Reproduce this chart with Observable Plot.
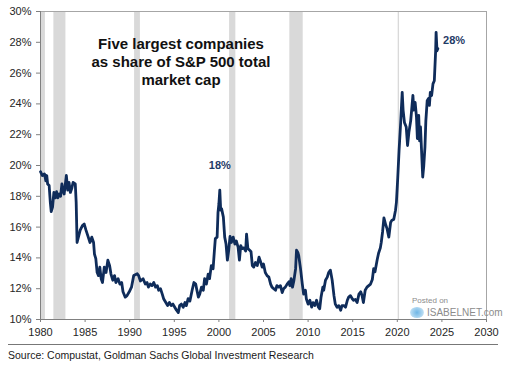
<!DOCTYPE html>
<html>
<head>
<meta charset="utf-8">
<script src="https://cdn.jsdelivr.net/npm/d3@7"></script>
<script src="https://cdn.jsdelivr.net/npm/@observablehq/plot@0.6"></script>
<style>
  html, body { margin: 0; padding: 0; background: #fff; }
  #wrap { position: relative; width: 506px; height: 372px; font-family: "Liberation Sans", Arial, sans-serif; overflow: hidden; }
  #chart { position: absolute; left: 0; top: 0; }
  .title { position: absolute; left: 60px; top: 35px; width: 242px; text-align: center; font-weight: bold; font-size: 15px; line-height: 18px; color: #111; }
  .sep { position: absolute; left: 8px; top: 344px; width: 490px; height: 0; border-top: 1px solid #777; }
  .source { position: absolute; left: 8px; top: 349px; font-size: 10.5px; color: #1a1a1a; }
  .wm1 { position: absolute; left: 412px; top: 296px; font-size: 8px; color: #8c8c8c; }
  .wm2 { position: absolute; left: 427px; top: 307px; font-size: 10px; color: #8c8c8c; }
  .logo { position: absolute; left: 410px; top: 307px; width: 14px; height: 11px; border-radius: 50%; background: radial-gradient(circle, #6fb6e6 0%, #b9dcf2 70%, #ffffff 100%); }
</style>
</head>
<body>
<div id="wrap">
  <div id="chart"></div>
  <div class="title">Five largest companies<br>as share of S&amp;P 500 total<br>market cap</div>
  <div class="logo"></div>
  <div class="wm1">Posted on</div>
  <div class="wm2">ISABELNET.com</div>
  <div class="sep"></div>
  <div class="source">Source: Compustat, Goldman Sachs Global Investment Research</div>
</div>
<script>
const years = [
  1980.0, 1980.2, 1980.45, 1980.6, 1980.7, 1980.8, 1980.97, 1981.1, 1981.2, 1981.35,
  1981.5, 1981.65, 1981.8, 1981.95, 1982.1, 1982.25, 1982.4, 1982.5, 1982.65, 1982.9,
  1983.05, 1983.2, 1983.35, 1983.5, 1983.65, 1983.9, 1984.0, 1984.1, 1984.25, 1984.45,
  1984.7, 1984.9, 1985.1, 1985.3, 1985.55, 1985.75, 1985.95, 1986.05, 1986.2, 1986.35,
  1986.5, 1986.65, 1986.8, 1986.95, 1987.15, 1987.35, 1987.55, 1987.75, 1987.9, 1988.1,
  1988.3, 1988.45, 1988.7, 1988.9, 1989.1, 1989.25, 1989.5, 1989.7, 1989.95, 1990.2,
  1990.45, 1990.85, 1991.0, 1991.2, 1991.5, 1991.75, 1991.95, 1992.1, 1992.3, 1992.5,
  1992.7, 1992.9, 1993.1, 1993.25, 1993.45, 1993.65, 1993.8, 1994.05, 1994.25, 1994.45,
  1994.65, 1994.85, 1995.05, 1995.25, 1995.45, 1995.6, 1995.8, 1996.0, 1996.2, 1996.35,
  1996.55, 1996.75, 1997.0, 1997.2, 1997.4, 1997.5, 1997.7, 1997.85, 1998.05, 1998.25,
  1998.4, 1998.6, 1998.8, 1998.95, 1999.15, 1999.35, 1999.5, 1999.6, 1999.8, 1999.9,
  2000.0, 2000.1, 2000.2, 2000.3, 2000.5, 2000.65, 2000.8, 2000.95, 2001.1, 2001.25,
  2001.4, 2001.6, 2001.8, 2001.95, 2002.15, 2002.3, 2002.45, 2002.6, 2002.8, 2003.0,
  2003.1, 2003.25, 2003.45, 2003.6, 2003.75, 2003.9, 2004.1, 2004.3, 2004.5, 2004.7,
  2004.85, 2005.0, 2005.2, 2005.4, 2005.6, 2005.8, 2005.95, 2006.15, 2006.35, 2006.5,
  2006.7, 2006.9, 2007.1, 2007.25, 2007.45, 2007.65, 2007.85, 2007.95, 2008.1, 2008.25,
  2008.4, 2008.6, 2008.7, 2008.85, 2008.95, 2009.15, 2009.35, 2009.5, 2009.7, 2009.8,
  2010.0, 2010.2, 2010.4, 2010.55, 2010.75, 2010.95, 2011.15, 2011.3, 2011.45, 2011.65,
  2011.75, 2011.95, 2012.15, 2012.3, 2012.5, 2012.7, 2012.9, 2013.05, 2013.25, 2013.45,
  2013.65, 2013.8, 2014.0, 2014.2, 2014.4, 2014.55, 2014.75, 2014.95, 2015.1, 2015.3,
  2015.5, 2015.7, 2015.9, 2016.05, 2016.2, 2016.4, 2016.6, 2016.8, 2017.0, 2017.2,
  2017.35, 2017.5, 2017.75, 2017.9, 2018.1, 2018.2, 2018.35, 2018.5, 2018.7, 2018.85,
  2019.05, 2019.25, 2019.4, 2019.6, 2019.8, 2019.9, 2020.05, 2020.2, 2020.35, 2020.55,
  2020.65, 2020.8, 2021.0, 2021.15, 2021.3, 2021.5, 2021.6, 2021.75, 2021.85, 2022.0,
  2022.15, 2022.25, 2022.4, 2022.5, 2022.6, 2022.7, 2022.85, 2022.97, 2023.1, 2023.2,
  2023.35, 2023.5, 2023.6, 2023.7, 2023.85, 2024.0, 2024.15, 2024.3, 2024.35, 2024.45,
  2024.55
];
const shares = [
  19.6, 19.35, 19.45, 19.0, 19.35, 18.8, 18.7, 17.6, 17.0, 17.3,
  18.25, 17.9, 18.3, 17.9, 18.15, 18.0, 18.8, 18.4, 18.15, 19.35,
  18.4, 18.9, 18.25, 18.5, 18.9, 18.8, 17.6, 15.0, 15.35, 15.8,
  16.1, 16.2, 15.8, 15.45, 15.0, 15.35, 15.0, 14.25, 13.95, 13.05,
  12.85, 13.4, 12.65, 12.4, 13.4, 13.05, 13.85, 13.5, 12.95, 12.55,
  12.85, 12.4, 12.65, 12.3, 12.4, 11.8, 11.45, 11.55, 11.8, 12.1,
  12.85, 12.97, 12.85, 12.5, 12.65, 12.3, 12.4, 12.1, 12.3, 12.2,
  12.4, 12.1, 12.2, 11.9, 12.0, 11.65, 11.35, 11.1, 10.9, 11.1,
  10.9, 11.0, 10.8, 10.6, 10.45, 10.9, 11.0, 10.8, 11.1, 10.9,
  11.35, 11.2, 11.9, 12.4, 12.3, 12.0, 11.45, 11.65, 12.1, 11.9,
  12.65, 12.3, 12.95, 12.65, 13.5, 13.3, 14.5, 15.25, 15.35, 16.95,
  17.5, 18.4, 17.1, 17.2, 16.65, 15.35, 14.9, 13.85, 14.5, 15.4,
  15.0, 15.35, 14.9, 15.1, 14.7, 13.85, 14.8, 14.6, 14.65, 14.45,
  15.55, 14.6, 14.5, 14.4, 13.5, 13.4, 13.7, 13.5, 14.05, 13.7,
  13.4, 13.6, 13.05, 12.85, 12.75, 12.3, 12.1, 12.0, 11.9, 12.2,
  12.1, 12.2, 11.75, 12.0, 12.1, 12.3, 12.45, 12.2, 12.65, 12.1,
  12.5, 13.3, 14.5, 14.35, 14.15, 13.3, 12.3, 11.65, 11.9, 11.35,
  11.0, 11.25, 10.8, 11.1, 10.9, 11.25, 10.8, 10.7, 11.45, 12.1,
  11.9, 12.55, 12.75, 13.05, 13.2, 12.55, 11.55, 11.0, 10.8, 10.9,
  10.6, 10.9, 10.9, 10.8, 11.25, 11.45, 11.55, 11.35, 11.25, 11.3,
  11.1, 11.65, 11.8, 11.55, 11.1, 11.9, 12.1, 12.2, 12.3, 12.6,
  13.3, 13.1, 13.9, 14.3, 14.65, 15.0, 15.7, 16.6, 16.15, 15.9,
  15.35, 16.3, 16.45, 16.5, 17.1, 17.6, 19.2, 21.0, 22.5, 24.75,
  23.6, 22.8, 22.5, 21.3, 22.15, 22.9, 23.55, 24.55, 23.6, 24.1,
  23.15, 21.75, 23.25, 21.6, 22.5, 21.2, 19.25, 20.0, 21.2, 22.9,
  24.2, 24.35, 23.9, 24.75, 24.55, 25.3, 25.5, 27.45, 28.65, 27.45,
  27.6
];
const recessionStart = [1980.0, 1981.5, 1990.55, 2001.2, 2007.95, 2020.1];
const recessionEnd   = [1980.55, 1982.85, 1991.2, 2001.9, 2009.45, 2020.25];
const xTicks = [1980, 1985, 1990, 1995, 2000, 2005, 2010, 2015, 2020, 2025, 2030];
const yTicks = [10, 12, 14, 16, 18, 20, 22, 24, 26, 28, 30];
const labelYears = [2000.1, 2024.35];
const labelValues = [18.4, 28.65];
const labelTexts = ["18%", "28%"];

const series = years.map((y, i) => ({year: y, share: shares[i]}));
const recessions = recessionStart.map((s, i) => ({start: s, end: recessionEnd[i]}));
const labels = labelYears.map((y, i) => ({year: y, share: labelValues[i], text: labelTexts[i]}));

const navy = "#0f2c5a";

const chart = Plot.plot({
  width: 506,
  height: 340,
  marginLeft: 40,
  marginRight: 20,
  marginTop: 11,
  marginBottom: 21,
  style: {fontFamily: "'Liberation Sans', Arial, sans-serif", fontSize: "11px", color: "#262626", background: "#fff"},
  x: {domain: [1980, 2030]},
  y: {domain: [10, 30]},
  marks: [
    Plot.rect(recessions, {x1: "start", x2: "end", y1: 10, y2: 30, fill: "#d9d9d9"}),
    Plot.frame({stroke: "#a6a6a6"}),
    Plot.axisX({ticks: xTicks, tickFormat: d => String(d), tickSize: 3, tickPadding: 6, label: null, stroke: "#808080"}),
    Plot.axisY({ticks: yTicks, tickFormat: d => d + "%", tickSize: 4, tickPadding: 5, label: null, stroke: "#808080"}),
    Plot.ruleX([1980], {stroke: "#808080"}),
    Plot.ruleY([10], {stroke: "#808080"}),
    Plot.line(series, {x: "year", y: "share", stroke: navy, strokeWidth: 2.8, strokeLinejoin: "round", strokeLinecap: "round"}),
    Plot.text(labels.slice(0, 1), {x: "year", y: "share", text: "text", dy: -25, fill: "#1f3b66", fontWeight: "bold", fontSize: 11, textAnchor: "middle"}),
    Plot.text(labels.slice(1), {x: "year", y: "share", text: "text", dx: 7, dy: 8, fill: "#1f3b66", fontWeight: "bold", fontSize: 11, textAnchor: "start"})
  ]
});
document.getElementById("chart").appendChild(chart);
</script>
</body>
</html>
